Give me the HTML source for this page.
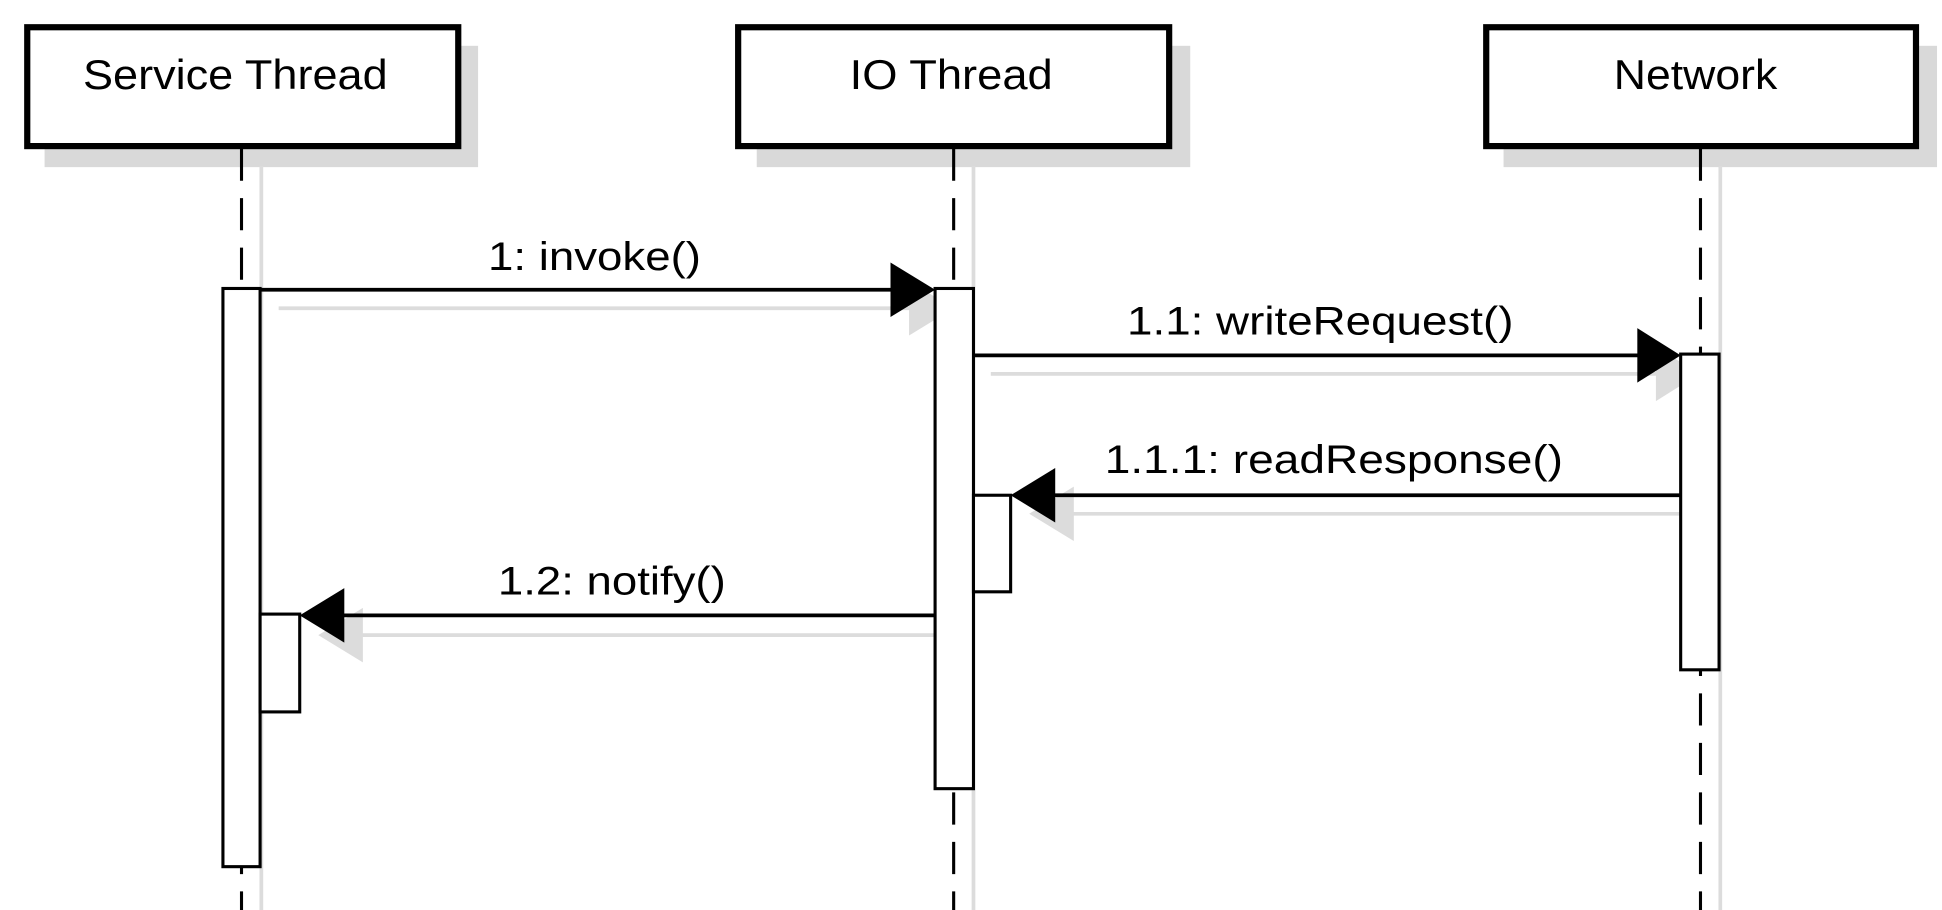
<!DOCTYPE html>
<html><head><style>html,body{margin:0;padding:0;background:#fff;}svg{display:block}</style></head>
<body>
<svg width="1942" height="910" viewBox="0 0 1568 735" preserveAspectRatio="none" xmlns="http://www.w3.org/2000/svg" font-family="Liberation Sans, Arial, sans-serif">
<g fill="#d9d9d9">
<rect x="36" y="37" width="350" height="98"/>
<rect x="611" y="37" width="350" height="98"/>
<rect x="1214" y="37" width="350" height="98"/>
</g>
<g stroke="#dcdcdc" stroke-width="3">
<line x1="211" y1="134" x2="211" y2="735"/>
<line x1="786" y1="134" x2="786" y2="735"/>
<line x1="1389" y1="134" x2="1389" y2="735"/>
</g>
<g stroke="#000" stroke-width="2.5" stroke-dasharray="26,14">
<line x1="195" y1="120" x2="195" y2="735"/>
<line x1="770" y1="120" x2="770" y2="735"/>
<line x1="1373" y1="120" x2="1373" y2="735"/>
</g>
<g fill="#fff" stroke="#000" stroke-width="5">
<rect x="22" y="22" width="348" height="96"/>
<rect x="596" y="22" width="348" height="96"/>
<rect x="1200" y="22" width="347" height="96"/>
</g>
<g font-size="34" text-anchor="middle" fill="#000">
<text x="190" y="72" textLength="246" lengthAdjust="spacingAndGlyphs">Service Thread</text>
<text x="768" y="72" textLength="164" lengthAdjust="spacingAndGlyphs">IO Thread</text>
<text x="1369" y="72" textLength="132" lengthAdjust="spacingAndGlyphs">Network</text>
</g>
<g stroke="#dcdcdc" stroke-width="3" fill="#dcdcdc">
<line x1="225" y1="249" x2="740" y2="249"/>
<polygon points="734,227 770,249 734,271" stroke="none"/>
<line x1="800" y1="302" x2="1340" y2="302"/>
<polygon points="1337,280 1372,302 1337,324" stroke="none"/>
<line x1="860" y1="415" x2="1373" y2="415"/>
<polygon points="831,415 867,393 867,437" stroke="none"/>
<line x1="285" y1="513" x2="772" y2="513"/>
<polygon points="257,513 293,491 293,535" stroke="none"/>
</g>
<g fill="#fff" stroke="#000" stroke-width="2.5">
<rect x="180" y="233" width="30" height="467"/>
<rect x="210" y="496" width="32" height="79"/>
<rect x="755" y="233" width="31" height="404"/>
<rect x="786" y="400" width="30" height="78"/>
<rect x="1357" y="286" width="31" height="255"/>
</g>
<g stroke="#000" stroke-width="3">
<line x1="210" y1="234" x2="722" y2="234"/>
<line x1="786" y1="287" x2="1325" y2="287"/>
<line x1="1357" y1="400" x2="850" y2="400"/>
<line x1="755" y1="497" x2="275" y2="497"/>
</g>
<g fill="#000">
<polygon points="719,212 755,234 719,256"/>
<polygon points="1322,265 1357,287 1322,309"/>
<polygon points="816,400 852,378 852,422"/>
<polygon points="242,497 278,475 278,519"/>
</g>
<g font-size="32" text-anchor="middle" fill="#000">
<text x="480" y="218" textLength="172" lengthAdjust="spacingAndGlyphs">1: invoke()</text>
<text x="1066" y="270" textLength="312" lengthAdjust="spacingAndGlyphs">1.1: writeRequest()</text>
<text x="1077" y="382" textLength="370" lengthAdjust="spacingAndGlyphs">1.1.1: readResponse()</text>
<text x="494" y="480" textLength="184" lengthAdjust="spacingAndGlyphs">1.2: notify()</text>
</g>
</svg>
</body></html>
